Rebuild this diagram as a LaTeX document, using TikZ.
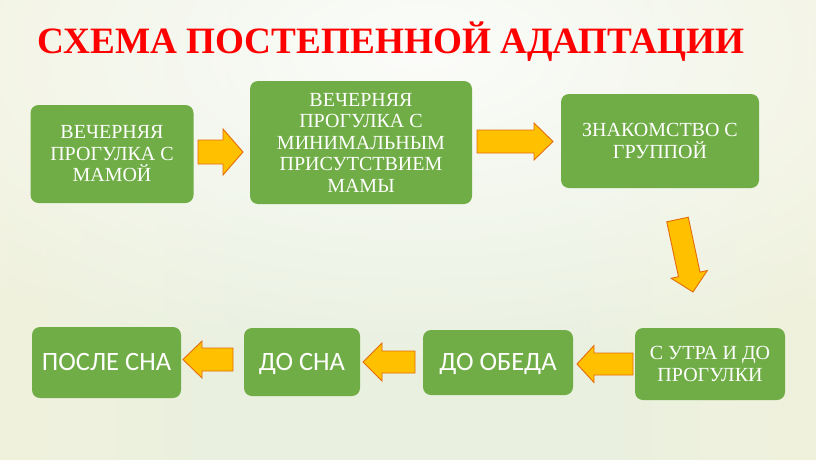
\documentclass[tikz,border=0pt]{standalone}
\usepackage{fontspec}
\usetikzlibrary{calc,fadings}
\newfontfamily\serifbox{Liberation Serif}
\newfontfamily\sansbox{Carlito}
\definecolor{boxgreen}{HTML}{70AD47}
\definecolor{arrfill}{HTML}{FFC000}
\definecolor{arrline}{HTML}{E46C0A}
\definecolor{titlered}{HTML}{FF0000}
\definecolor{bgmid}{HTML}{E9F0DF}
\definecolor{bgedge}{HTML}{F2F2DC}
\definecolor{bgout}{HTML}{FBF0CA}
\pgfdeclarehorizontalshading{bgh}{100bp}{color(0bp)=(bgout); color(4bp)=(bgout); color(20bp)=(bgedge); color(40bp)=(bgmid); color(60bp)=(bgmid); color(80bp)=(bgedge); color(96bp)=(bgout); color(100bp)=(bgout)}
\tikzfading[name=glowfade, inner color=transparent!15, outer color=transparent!100]
\tikzset{
  box/.style={fill=boxgreen, rounded corners=8pt, text=white, align=center, inner sep=0pt},
  serifstyle/.style={font=\serifbox\fontsize{20}{21.5}\selectfont},
  sansstyle/.style={font=\sansbox\fontsize{26.5}{30}\selectfont, text height=16.8pt, text depth=0pt},
  arrowstyle/.style={fill=arrfill, draw=arrline, line width=0.9pt, line join=miter},
}
\newcommand{\blkarrow}[5]{%
  \path ($(#2)!#5!(#1)$) coordinate (hb);
  \draw[arrowstyle] ($(#1)!#3!90:(#2)$) -- ($(hb)!#3!90:(#2)$) -- ($(hb)!#4!90:(#2)$) -- (#2)
    -- ($(hb)!#4!-90:(#2)$) -- ($(hb)!#3!-90:(#2)$) -- ($(#1)!#3!-90:(#2)$) -- cycle;}
\begin{document}
\begin{tikzpicture}[x=1pt,y=-1pt]
\useasboundingbox (0,0) rectangle (816,459);
\shade[shading=bgh] (0,0) rectangle (816,459);
\fill[white, path fading=glowfade] (420,50) ellipse (640pt and 330pt);
\node[anchor=base, text=titlered, font=\serifbox\bfseries\fontsize{37.2}{40}\selectfont, inner sep=0pt] (title) at (391,53) {СХЕМА ПОСТЕПЕННОЙ АДАПТАЦИИ};
\node[box, serifstyle, minimum width=163pt, minimum height=98pt] (b1) at (112,154) {ВЕЧЕРНЯЯ\\ПРОГУЛКА С\\МАМОЙ};
\node[box, serifstyle, minimum width=222pt, minimum height=123pt] (b2) at (361,142.5) {ВЕЧЕРНЯЯ\\ПРОГУЛКА С\\МИНИМАЛЬНЫМ\\ПРИСУТСТВИЕМ\\МАМЫ};
\node[box, serifstyle, minimum width=198pt, minimum height=94pt] (b3) at (660,141) {ЗНАКОМСТВО С\\ГРУППОЙ};
\node[box, serifstyle, minimum width=150pt, minimum height=72pt] (b4) at (710,364) {С УТРА И ДО\\ПРОГУЛКИ};
\node[box, sansstyle, minimum width=150pt, minimum height=65pt] (b5) at (498,362.5) {ДО ОБЕДА};
\node[box, sansstyle, minimum width=116pt, minimum height=68pt] (b6) at (302,362) {ДО СНА};
\node[box, sansstyle, minimum width=149pt, minimum height=71pt] (b7) at (106.5,362.5) {ПОСЛЕ СНА};
\coordinate (a1s) at (198,152); \coordinate (a1t) at (243,152);
\coordinate (a2s) at (477,141.5); \coordinate (a2t) at (553,141.5);
\coordinate (a3s) at (677.5,219.5); \coordinate (a3t) at (693,292);
\coordinate (a4s) at (633,364); \coordinate (a4t) at (577,364);
\coordinate (a5s) at (415,362); \coordinate (a5t) at (363,362);
\coordinate (a6s) at (233,359.5); \coordinate (a6t) at (183,359.5);
\blkarrow{a1s}{a1t}{12pt}{23pt}{20pt}
\blkarrow{a2s}{a2t}{11.5pt}{18.5pt}{19pt}
\blkarrow{a3s}{a3t}{11pt}{18.5pt}{18pt}
\blkarrow{a4s}{a4t}{11pt}{18.5pt}{17pt}
\blkarrow{a5s}{a5t}{11pt}{19pt}{19pt}
\blkarrow{a6s}{a6t}{11.5pt}{18.5pt}{19pt}
\end{tikzpicture}
\end{document}
